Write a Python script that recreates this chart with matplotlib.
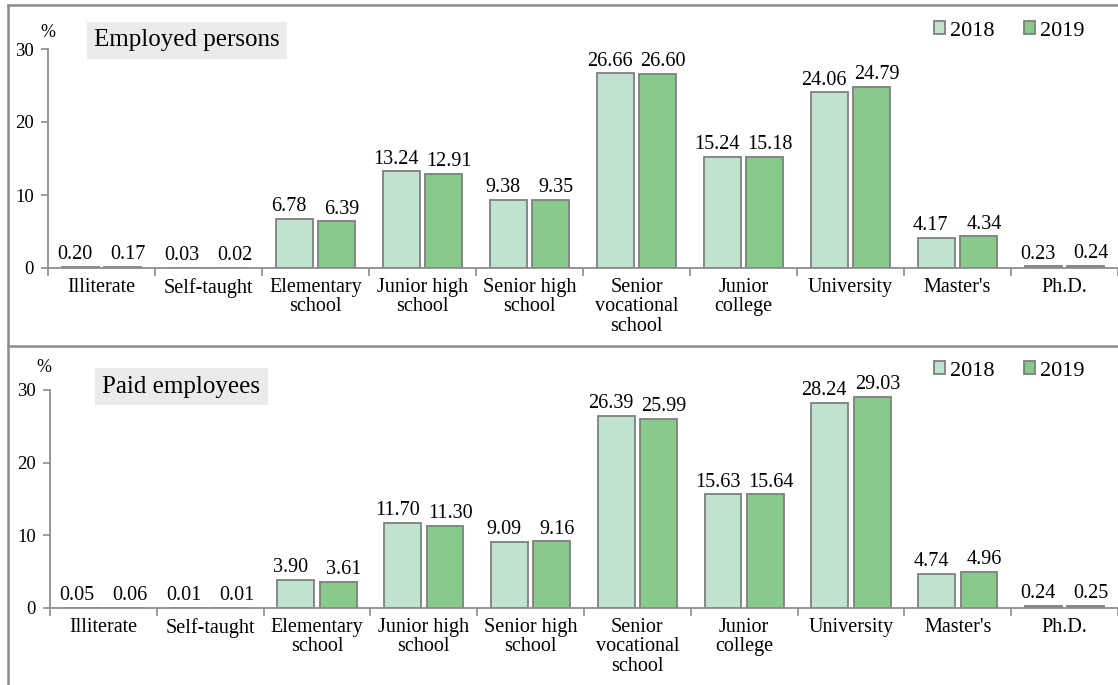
import numpy as np
import matplotlib
matplotlib.use("Agg")
import matplotlib.pyplot as plt
from matplotlib.lines import Line2D

plt.rcParams['font.family'] = ['Liberation Serif', 'DejaVu Serif']

# ------------------------------------------------------------
# Data
# ------------------------------------------------------------
categories = ["Illiterate", "Self-taught", "Elementary\nschool", "Junior high\nschool",
              "Senior high\nschool", "Senior\nvocational\nschool", "Junior\ncollege",
              "University", "Master's", "Ph.D."]
years = ["2018", "2019"]

employed_2018 = [0.20, 0.03, 6.78, 13.24, 9.38, 26.66, 15.24, 24.06, 4.17, 0.23]
employed_2019 = [0.17, 0.02, 6.39, 12.91, 9.35, 26.60, 15.18, 24.79, 4.34, 0.24]

paid_2018 = [0.05, 0.01, 3.90, 11.70, 9.09, 26.39, 15.63, 28.24, 4.74, 0.24]
paid_2019 = [0.06, 0.01, 3.61, 11.30, 9.16, 25.99, 15.64, 29.03, 4.96, 0.25]

yticks = [0, 10, 20, 30]

c2018 = "#c0e3d0"
c2019 = "#88c98c"
edge = "#7f7f7f"
frame = "#8c8c8c"

W, H = 1118, 685


def label_bars(ax, bars, values, dx):
    # value labels, nudged slightly outward like the original
    for b, v in zip(bars, values):
        ax.annotate(f"{v:.2f}", (b.get_x() + b.get_width() / 2, b.get_height()),
                    xytext=(dx, 2), textcoords='offset points',
                    ha='center', va='bottom', fontsize=14.5)


def draw_panel(ax, v18, v19, title, title_pos, pct_pos, legend_y):
    x = np.arange(len(categories))
    w = 0.345
    b1 = ax.bar(x - 0.198, v18, w, color=c2018, edgecolor=edge, linewidth=1.3, label=years[0])
    b2 = ax.bar(x + 0.198, v19, w, color=c2019, edgecolor=edge, linewidth=1.3, label=years[1])
    label_bars(ax, b1, v18, -4)
    label_bars(ax, b2, v19, 4)

    ax.set_xlim(-0.5, len(categories) - 0.5)
    ax.set_ylim(0, 30)
    ax.set_yticks(yticks)
    ax.tick_params(axis='y', labelsize=13.5, length=5, color=frame, width=1.2, pad=5)

    # categories as minor labels, boundaries as major ticks
    ax.set_xticks(np.arange(len(categories) + 1) - 0.5)
    ax.set_xticklabels([])
    ax.set_xticks(x, minor=True)
    ax.set_xticklabels(categories, minor=True, fontsize=14.5, linespacing=1.05, va='top')
    ax.tick_params(axis='x', which='major', length=6, color=frame, width=1.2)
    ax.tick_params(axis='x', which='minor', length=0, pad=7)

    for s in ['top', 'right']:
        ax.spines[s].set_visible(False)
    for s in ['left', 'bottom']:
        ax.spines[s].set_color(frame)
        ax.spines[s].set_linewidth(1.3)

    ax.text(pct_pos[0], pct_pos[1], "%", transform=ax.transAxes, fontsize=13, ha='center', va='center')
    ax.text(title_pos[0], title_pos[1], title, transform=ax.transAxes, fontsize=18, ha='left', va='center',
            bbox=dict(boxstyle='square,pad=0.3', facecolor='#ebebeb', edgecolor='none'))

    ax.legend(loc='center right', bbox_to_anchor=(1093 / W, legend_y), bbox_transform=ax.figure.transFigure,
              ncol=2, frameon=False, fontsize=16, handlelength=0.5, handleheight=0.5,
              handletextpad=0.2, columnspacing=1.35, borderaxespad=0)


fig = plt.figure(figsize=(W / 100, H / 100), dpi=100)

ax1 = fig.add_axes([48 / W, 1 - 268 / H, 1 - 48 / W, (268 - 49) / H])
draw_panel(ax1, employed_2018, employed_2019, "Employed persons",
           (0.043, 1.04), (0.0, 1.075), 1 - 31 / H)

ax2 = fig.add_axes([50 / W, 1 - 608 / H, 1 - 50 / W, (608 - 390) / H])
draw_panel(ax2, paid_2018, paid_2019, "Paid employees",
           (0.049, 1.014), (-0.006, 1.105), 1 - 371 / H)

# outer frame lines
fig.add_artist(Line2D([8 / W, 1], [1 - 5 / H, 1 - 5 / H], color=frame, lw=1.8))
fig.add_artist(Line2D([8 / W, 1], [1 - 346 / H, 1 - 346 / H], color=frame, lw=1.8))
fig.add_artist(Line2D([8 / W, 8 / W], [0, 1 - 5 / H], color=frame, lw=1.8))

fig.savefig("out.png", dpi=100)
